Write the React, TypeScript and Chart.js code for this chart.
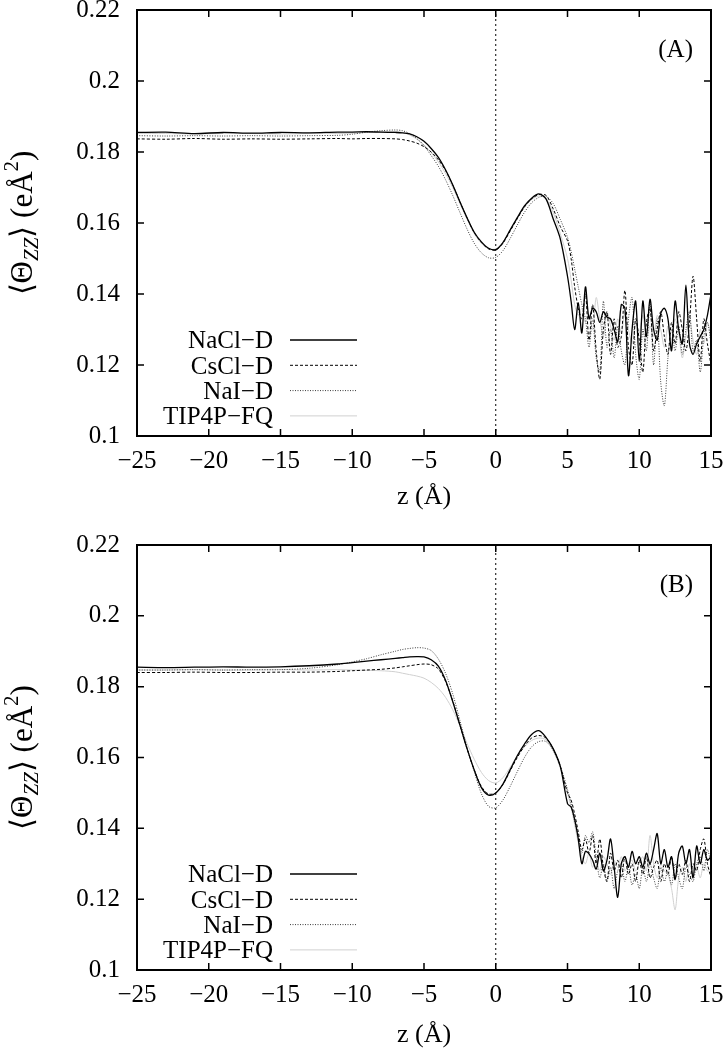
import React, { useEffect, useRef } from "react";
import { Chart, registerables } from "chart.js";
Chart.register(...registerables);

// z positions (Å)
const Z = [
  -25, -23, -21, -19, -17, -15, -13, -11, -10, -9, -8, -7,
  -6.5, -6, -5.5, -5, -4.5, -4, -3.5, -3, -2.5, -2, -1.5, -1, -0.5, 0,
  0.5, 1, 1.5, 2, 2.5, 3, 3.5, 4, 4.5, 5,
  5.25, 5.5, 5.75, 6, 6.25, 6.5, 6.75, 7, 7.25, 7.5, 7.75, 8, 8.25, 8.5, 8.75, 9,
  9.25, 9.5, 9.75, 10, 10.25, 10.5, 10.75, 11, 11.25, 11.5, 11.75, 12, 12.25, 12.5,
  12.75, 13, 13.25, 13.5, 13.75, 14, 14.25, 14.5, 14.75, 15,
];

const SERIES_NAMES = ["NaCl\u2212D", "CsCl\u2212D", "NaI\u2212D", "TIP4P\u2212FQ"];
const X_TICKS = [-25, -20, -15, -10, -5, 0, 5, 10, 15];
const Y_TICKS = [0.1, 0.12, 0.14, 0.16, 0.18, 0.2, 0.22];

// ---------- Panel A ----------
const A_NACL = [
  0.1855, 0.1856, 0.1852, 0.1855, 0.1853, 0.1855, 0.1854, 0.1856, 0.1856, 0.1857, 0.1856, 0.1855,
  0.1854, 0.1851, 0.1843, 0.1830, 0.1810, 0.1785, 0.1750, 0.1708, 0.1660, 0.1615, 0.1574, 0.1547, 0.1529, 0.1525,
  0.1545, 0.1580, 0.1615, 0.1648, 0.1670, 0.1682, 0.1668, 0.1612, 0.1555, 0.1450,
  0.1380, 0.1300, 0.1375, 0.1290, 0.1420, 0.1330, 0.1360, 0.1350, 0.1320, 0.1350, 0.1335, 0.1330, 0.1300, 0.1265, 0.1370, 0.1360,
  0.1170, 0.1300, 0.1380, 0.1210, 0.1380, 0.1280, 0.1385, 0.1300, 0.1270, 0.1345, 0.1360, 0.1330, 0.1240, 0.1380,
  0.1300, 0.1260, 0.1425, 0.1260, 0.1230, 0.1260, 0.1280, 0.1300, 0.1340, 0.1400,
];
const A_CSCL = [
  0.1837, 0.1836, 0.1838, 0.1836, 0.1837, 0.1836, 0.1837, 0.1838, 0.1837, 0.1838, 0.1838, 0.1837,
  0.1835, 0.1831, 0.1825, 0.1815, 0.1800, 0.1778, 0.1748, 0.1707, 0.1660, 0.1614, 0.1573, 0.1545, 0.1527, 0.1524,
  0.1543, 0.1577, 0.1612, 0.1645, 0.1668, 0.1680, 0.1678, 0.1640, 0.1590, 0.1550,
  0.1500, 0.1420, 0.1360, 0.1330, 0.1400, 0.1270, 0.1370, 0.1240, 0.1160, 0.1300, 0.1350, 0.1230, 0.1330, 0.1250, 0.1280, 0.1410,
  0.1250, 0.1200, 0.1330, 0.1270, 0.1180, 0.1320, 0.1360, 0.1240, 0.1300, 0.1350, 0.1280, 0.1230, 0.1320, 0.1260,
  0.1350, 0.1300, 0.1240, 0.1320, 0.1450, 0.1330, 0.1210, 0.1330, 0.1260, 0.1200,
];
const A_NAI = [
  0.1846, 0.1845, 0.1846, 0.1845, 0.1846, 0.1845, 0.1846, 0.1847, 0.1850, 0.1856, 0.1860, 0.1862,
  0.1860, 0.1852, 0.1838, 0.1818, 0.1790, 0.1760, 0.1722, 0.1678, 0.1630, 0.1583, 0.1543, 0.1516, 0.1502, 0.1503,
  0.1522, 0.1556, 0.1594, 0.1630, 0.1657, 0.1672, 0.1675, 0.1655, 0.1610, 0.1560,
  0.1520, 0.1470, 0.1420, 0.1370, 0.1330, 0.1250, 0.1330, 0.1220, 0.1180, 0.1380, 0.1250, 0.1300, 0.1220, 0.1310, 0.1240, 0.1200,
  0.1330, 0.1390, 0.1230, 0.1160, 0.1300, 0.1240, 0.1380, 0.1200, 0.1330, 0.1150, 0.1085, 0.1220, 0.1300, 0.1240,
  0.1310, 0.1230, 0.1300, 0.1350, 0.1240, 0.1270, 0.1180, 0.1280, 0.1320, 0.1260,
];
const A_TIP4P = [
  0.1852, 0.1852, 0.1851, 0.1852, 0.1852, 0.1851, 0.1852, 0.1852, 0.1853, 0.1855, 0.1857, 0.1858,
  0.1855, 0.1848, 0.1836, 0.1820, 0.1798, 0.1772, 0.1740, 0.1700, 0.1655, 0.1610, 0.1570, 0.1543, 0.1528, 0.1527,
  0.1546, 0.1580, 0.1614, 0.1645, 0.1666, 0.1676, 0.1670, 0.1630, 0.1570, 0.1500,
  0.1440, 0.1370, 0.1340, 0.1360, 0.1320, 0.1340, 0.1300, 0.1390, 0.1330, 0.1280, 0.1350, 0.1310, 0.1270, 0.1330, 0.1290, 0.1350,
  0.1300, 0.1260, 0.1320, 0.1290, 0.1340, 0.1270, 0.1310, 0.1280, 0.1340, 0.1300, 0.1250, 0.1310, 0.1270, 0.1330,
  0.1290, 0.1220, 0.1280, 0.1330, 0.1270, 0.1230, 0.1300, 0.1260, 0.1320, 0.1280,
];

// ---------- Panel B ----------
const B_NACL = [
  0.1855, 0.1854, 0.1855, 0.1856, 0.1855, 0.1856, 0.1859, 0.1864, 0.1868, 0.1872, 0.1876, 0.1880,
  0.1882, 0.1884, 0.1885, 0.1884, 0.1876, 0.1858, 0.1818, 0.1758, 0.1692, 0.1625, 0.1565, 0.1515, 0.1494, 0.1500,
  0.1525, 0.1565, 0.1605, 0.1638, 0.1665, 0.1676, 0.1657, 0.1625, 0.1575, 0.1470,
  0.1460, 0.1425, 0.1370, 0.1300, 0.1335, 0.1328, 0.1310, 0.1285, 0.1330, 0.1280, 0.1310, 0.1370, 0.1290, 0.1205, 0.1300, 0.1320,
  0.1290, 0.1335, 0.1300, 0.1320, 0.1290, 0.1330, 0.1300, 0.1340, 0.1385, 0.1300, 0.1340, 0.1290, 0.1320, 0.1255,
  0.1330, 0.1350, 0.1300, 0.1340, 0.1260, 0.1350, 0.1300, 0.1340, 0.1310, 0.1320,
];
const B_CSCL = [
  0.1840, 0.1840, 0.1841, 0.1840, 0.1840, 0.1841, 0.1841, 0.1843, 0.1845, 0.1847, 0.1849, 0.1853,
  0.1856, 0.1859, 0.1862, 0.1864, 0.1862, 0.1850, 0.1815, 0.1760, 0.1692, 0.1625, 0.1565, 0.1518, 0.1497, 0.1500,
  0.1524, 0.1562, 0.1600, 0.1632, 0.1655, 0.1662, 0.1655, 0.1625, 0.1575, 0.1500,
  0.1480, 0.1440, 0.1390, 0.1340, 0.1370, 0.1330, 0.1380, 0.1300, 0.1370, 0.1290, 0.1250, 0.1330, 0.1280, 0.1310, 0.1260, 0.1320,
  0.1270, 0.1300, 0.1250, 0.1310, 0.1270, 0.1320, 0.1260, 0.1290, 0.1310, 0.1250, 0.1300, 0.1270, 0.1320, 0.1260,
  0.1300, 0.1270, 0.1310, 0.1250, 0.1300, 0.1280, 0.1340, 0.1370, 0.1300, 0.1260,
];
const B_NAI = [
  0.1847, 0.1847, 0.1848, 0.1847, 0.1848, 0.1848, 0.1852, 0.1862, 0.1870, 0.1879, 0.1890, 0.1900,
  0.1905, 0.1908, 0.1910, 0.1909, 0.1902, 0.1878, 0.1838, 0.1780, 0.1705, 0.1628, 0.1560, 0.1498, 0.1462, 0.1458,
  0.1480, 0.1518, 0.1560, 0.1600, 0.1630, 0.1645, 0.1645, 0.1620, 0.1575, 0.1510,
  0.1470, 0.1420, 0.1380, 0.1330, 0.1380, 0.1360, 0.1390, 0.1320, 0.1260, 0.1300, 0.1250, 0.1290, 0.1230, 0.1280, 0.1300, 0.1250,
  0.1290, 0.1240, 0.1270, 0.1230, 0.1290, 0.1250, 0.1300, 0.1260, 0.1230, 0.1290, 0.1250, 0.1280, 0.1240, 0.1300,
  0.1260, 0.1230, 0.1290, 0.1270, 0.1250, 0.1300, 0.1320, 0.1280, 0.1340, 0.1300,
];
const B_TIP4P = [
  0.1847, 0.1847, 0.1848, 0.1847, 0.1847, 0.1848, 0.1847, 0.1848, 0.1847, 0.1846, 0.1845, 0.1842,
  0.1838, 0.1834, 0.1830, 0.1824, 0.1812, 0.1795, 0.1770, 0.1735, 0.1690, 0.1640, 0.1595, 0.1558, 0.1535, 0.1528,
  0.1543, 0.1572, 0.1605, 0.1630, 0.1648, 0.1655, 0.1650, 0.1620, 0.1570, 0.1500,
  0.1460, 0.1410, 0.1360, 0.1320, 0.1300, 0.1330, 0.1290, 0.1310, 0.1280, 0.1320, 0.1300, 0.1270, 0.1310, 0.1290, 0.1320, 0.1280,
  0.1300, 0.1310, 0.1280, 0.1300, 0.1320, 0.1280, 0.1380, 0.1300, 0.1260, 0.1300, 0.1280, 0.1270, 0.1230, 0.1170,
  0.1260, 0.1290, 0.1250, 0.1300, 0.1270, 0.1290, 0.1260, 0.1300, 0.1280, 0.1290,
];

const FONT = "'Liberation Serif', 'Times New Roman', serif";
const STYLES = [
  { color: "#000000", width: 1.3, dash: [] as number[] },
  { color: "#000000", width: 1, dash: [3, 2] },
  { color: "#3a3a3a", width: 1, dash: [1, 1.5] },
  { color: "#d0d0d0", width: 1, dash: [] as number[] },
];

const CANVAS_W = 760;

const fmtX = (v: number) => (v < 0 ? "\u2212" + Math.abs(v) : String(v));
const fmtY = (v: number) => String(Math.round(v * 100) / 100);

const decorPlugin = {
  id: "decor",
  afterDraw(chart: any, _args: any, opts: any) {
    const ctx = chart.ctx;
    const { left, right, top, bottom } = chart.chartArea;
    const xs = chart.scales.x;
    const ys = chart.scales.y;
    ctx.save();
    // frame
    ctx.strokeStyle = "#000";
    ctx.lineWidth = 2;
    ctx.setLineDash([]);
    ctx.strokeRect(left, top, right - left, bottom - top);
    // inward ticks, mirrored
    ctx.lineWidth = 1.5;
    const tl = 7;
    ctx.beginPath();
    X_TICKS.forEach((t) => {
      const px = xs.getPixelForValue(t);
      ctx.moveTo(px, bottom);
      ctx.lineTo(px, bottom - tl);
      ctx.moveTo(px, top);
      ctx.lineTo(px, top + tl);
    });
    Y_TICKS.forEach((t) => {
      const py = ys.getPixelForValue(t);
      ctx.moveTo(left, py);
      ctx.lineTo(left + tl, py);
      ctx.moveTo(right, py);
      ctx.lineTo(right - tl, py);
    });
    ctx.stroke();

    // panel label
    ctx.fillStyle = "#000";
    ctx.font = `25px ${FONT}`;
    ctx.textAlign = "right";
    ctx.textBaseline = "alphabetic";
    ctx.fillText(opts.label, right - 18, top + 47);

    // legend
    SERIES_NAMES.forEach((name, i) => {
      const cy = bottom - 96 + i * 25.3;
      ctx.fillStyle = "#000";
      ctx.textAlign = "right";
      ctx.font = `25px ${FONT}`;
      ctx.fillText(name, left + 136, cy + 8.3);
      const st = STYLES[i];
      ctx.strokeStyle = st.color;
      ctx.lineWidth = st.width;
      ctx.setLineDash(st.dash);
      ctx.beginPath();
      ctx.moveTo(left + 153, cy);
      ctx.lineTo(left + 220, cy);
      ctx.stroke();
    });
    ctx.setLineDash([]);

    // y-axis title: <Θ_ZZ> (eÅ^2)
    const big = `31px ${FONT}`;
    const small = `italic 21px ${FONT}`;
    const smallUp = `21px ${FONT}`;
    const parts = [
      { t: "\u27E8\u0398", f: big, dy: 0 },
      { t: "ZZ", f: small, dy: 6 },
      { t: "\u27E9 (e\u00C5", f: big, dy: 0 },
      { t: "2", f: smallUp, dy: -14 },
      { t: ")", f: big, dy: 0 },
    ];
    let total = 0;
    parts.forEach((p) => {
      ctx.font = p.f;
      total += ctx.measureText(p.t).width;
    });
    const cyMid = (top + bottom) / 2;
    ctx.translate(opts.yTitleX, cyMid);
    ctx.rotate(-Math.PI / 2);
    ctx.textAlign = "left";
    let cx = -total / 2;
    parts.forEach((p) => {
      ctx.font = p.f;
      ctx.fillText(p.t, cx, p.dy);
      cx += ctx.measureText(p.t).width;
    });
    ctx.restore();
  },
};

function Panel(props: {
  top: number;
  height: number;
  xHeight: number;
  titlePad: number;
  label: string;
  series: number[][];
}) {
  const ref = useRef<HTMLCanvasElement>(null);
  useEffect(() => {
    const canvas = ref.current!;
    const datasets: any[] = props.series.map((vals, i) => ({
      label: SERIES_NAMES[i],
      data: Z.map((z, j) => ({ x: z, y: vals[j] })),
      borderColor: STYLES[i].color,
      borderWidth: STYLES[i].width,
      borderDash: STYLES[i].dash,
      pointRadius: 0,
      tension: 0.3,
      fill: false,
    }));
    datasets.push({
      label: "z0",
      data: [
        { x: 0, y: 0.1 },
        { x: 0, y: 0.22 },
      ],
      borderColor: "#000",
      borderWidth: 1,
      borderDash: [2, 3],
      pointRadius: 0,
      fill: false,
    });
    const chart = new Chart(canvas, {
      type: "line",
      data: { datasets },
      options: {
        animation: false,
        responsive: false,
        devicePixelRatio: 1,
        layout: { padding: { top: 30, right: CANVAS_W - 711, left: 0, bottom: 0 } },
        plugins: {
          legend: { display: false },
          tooltip: { enabled: false },
          decor: { label: props.label, yTitleX: 32 },
        } as any,
        scales: {
          x: {
            type: "linear",
            min: -25,
            max: 15,
            ticks: {
              stepSize: 5,
              font: { family: FONT, size: 25 },
              color: "#000",
              padding: 10,
              maxRotation: 0,
              autoSkip: false,
              callback: (v: any) => fmtX(Number(v)),
            },
            grid: { display: false, drawTicks: false },
            border: { display: false },
            title: {
              display: true,
              text: "z (\u00C5)",
              color: "#000",
              font: { family: FONT, size: 26, lineHeight: 1 },
              padding: { top: 0, bottom: props.titlePad },
            },
            afterFit: (s: any) => {
              s.height = props.xHeight;
            },
          },
          y: {
            type: "linear",
            min: 0.1,
            max: 0.22,
            ticks: {
              stepSize: 0.02,
              font: { family: FONT, size: 25 },
              color: "#000",
              padding: 17,
              callback: (v: any) => fmtY(Number(v)),
            },
            grid: { display: false, drawTicks: false },
            border: { display: false },
            afterFit: (s: any) => {
              s.width = 137;
            },
          },
        },
      } as any,
      plugins: [decorPlugin],
    });
    return () => chart.destroy();
  }, []);
  return (
    <canvas
      ref={ref}
      width={CANVAS_W}
      height={props.height}
      style={{ position: "absolute", left: 0, top: props.top, width: CANVAS_W, height: props.height }}
    />
  );
}

export default function App() {
  return (
    <div style={{ position: "absolute", left: 0, top: 0, width: 726, height: 1048, overflow: "hidden", background: "#fff" }}>
      <Panel top={-22} height={540} xHeight={82} titlePad={8} label="(A)" series={[A_NACL, A_CSCL, A_NAI, A_TIP4P]} />
      <Panel top={513} height={535} xHeight={78} titlePad={0} label="(B)" series={[B_NACL, B_CSCL, B_NAI, B_TIP4P]} />
    </div>
  );
}
